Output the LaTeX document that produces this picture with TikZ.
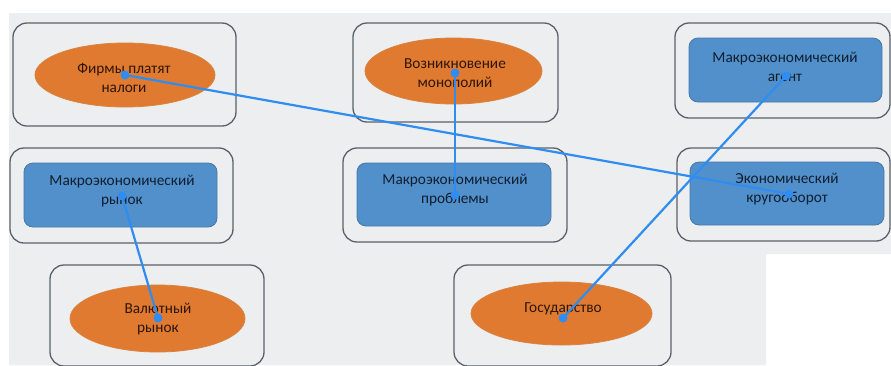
\documentclass[tikz,border=0pt]{standalone}
\usepackage{fontspec}
\setmainfont{Carlito}
\usetikzlibrary{shapes.geometric}
\definecolor{bg}{HTML}{EDEEF0}
\definecolor{boxline}{HTML}{5A616B}
\definecolor{orfill}{HTML}{E07A30}
\definecolor{orline}{HTML}{D8843F}
\definecolor{ortext}{HTML}{2E1608}
\definecolor{blfill}{HTML}{5190CA}
\definecolor{blline}{HTML}{4677A6}
\definecolor{bltext}{HTML}{101E30}
\definecolor{linkc}{HTML}{2F8CF0}
\begin{document}
\begin{tikzpicture}[x=1pt,y=-1pt,
  outerbox/.style={draw=boxline, line width=1.3pt, rounded corners=14pt, fill=bg, inner sep=0pt},
  oval/.style={ellipse, fill=orfill, draw=orline, line width=0.8pt, inner sep=0pt},
  bluebox/.style={rectangle, rounded corners=9pt, fill=blfill, draw=blline, line width=0.8pt, inner sep=0pt},
  txt/.style={align=center, inner sep=0pt, font=\fontsize{15.3}{19}\selectfont},
  otxt/.style={txt, text=ortext},
  btxt/.style={txt, text=bltext},
  link/.style={draw=linkc, line width=2.2pt},
  dot/.style={circle, fill=linkc, inner sep=0pt, minimum size=9pt}]

\useasboundingbox (0,0) rectangle (891,365);
\fill[white] (0,0) rectangle (891,365);
\fill[bg] (9,13) -- (891,13) -- (891,254) -- (766,254) -- (766,365) -- (9,365) -- cycle;

% outer boxes
\node[outerbox, minimum width=223pt, minimum height=103pt] (boxA) at (124.5,74.5) {};
\node[outerbox, minimum width=205pt, minimum height=99pt] (boxB) at (455.5,72.5) {};
\node[outerbox, minimum width=215pt, minimum height=95pt] (boxC) at (782.5,70.5) {};
\node[outerbox, minimum width=223pt, minimum height=95pt] (boxD) at (121.5,195.5) {};
\node[outerbox, minimum width=224pt, minimum height=94pt] (boxE) at (455,195) {};
\node[outerbox, minimum width=213pt, minimum height=93pt] (boxF) at (783.5,194.5) {};
\node[outerbox, minimum width=214pt, minimum height=101pt] (boxG) at (157,315.5) {};
\node[outerbox, minimum width=217pt, minimum height=101pt] (boxH) at (562.5,315.5) {};

% inner shapes
\node[oval, minimum width=180pt, minimum height=64pt] (shA) at (125,75) {};
\node[oval, minimum width=177pt, minimum height=66pt] (shB) at (453.5,71) {};
\node[bluebox, minimum width=193pt, minimum height=64pt] (shC) at (785.5,70) {};
\node[bluebox, minimum width=193pt, minimum height=64pt] (shD) at (120.5,195) {};
\node[bluebox, minimum width=194pt, minimum height=63pt] (shE) at (454,194.5) {};
\node[bluebox, minimum width=194pt, minimum height=63pt] (shF) at (787,193.5) {};
\node[oval, minimum width=175pt, minimum height=67pt] (shG) at (157.5,318.5) {};
\node[oval, minimum width=181pt, minimum height=63pt] (shH) at (561.5,313.5) {};

% texts
\node[otxt] (tA) at (124,77.5) {Фирмы платят\\налоги};
\node[otxt] (tB) at (455,73.5) {Возникновение\\монополий};
\node[btxt] (tC) at (785,66.5) {Макроэкономический\\агент};
\node[btxt] (tD) at (122,191.5) {Макроэкономический\\рынок};
\node[btxt] (tE) at (455,190.5) {Макроэкономический\\проблемы};
\node[btxt] (tF) at (787,189.5) {Экономический\\кругооборот};
\node[otxt] (tG) at (158,319.5) {Валютный\\рынок};
\node[otxt] (tH) at (563,309) {Государство};

% connector end points
\node[dot] (pA) at (125,75) {};
\node[dot] (pB) at (455,73) {};
\node[dot] (pC) at (786,76) {};
\node[dot] (pD) at (122,196) {};
\node[dot] (pE) at (455,195) {};
\node[dot] (pF) at (789,194) {};
\node[dot] (pG) at (158,318) {};
\node[dot] (pH) at (563,318) {};

\draw[link] (pA.center) -- (pF.center);
\draw[link] (pB.center) -- (pE.center);
\draw[link] (pC.center) -- (pH.center);
\draw[link] (pD.center) -- (pG.center);
\end{tikzpicture}
\end{document}
